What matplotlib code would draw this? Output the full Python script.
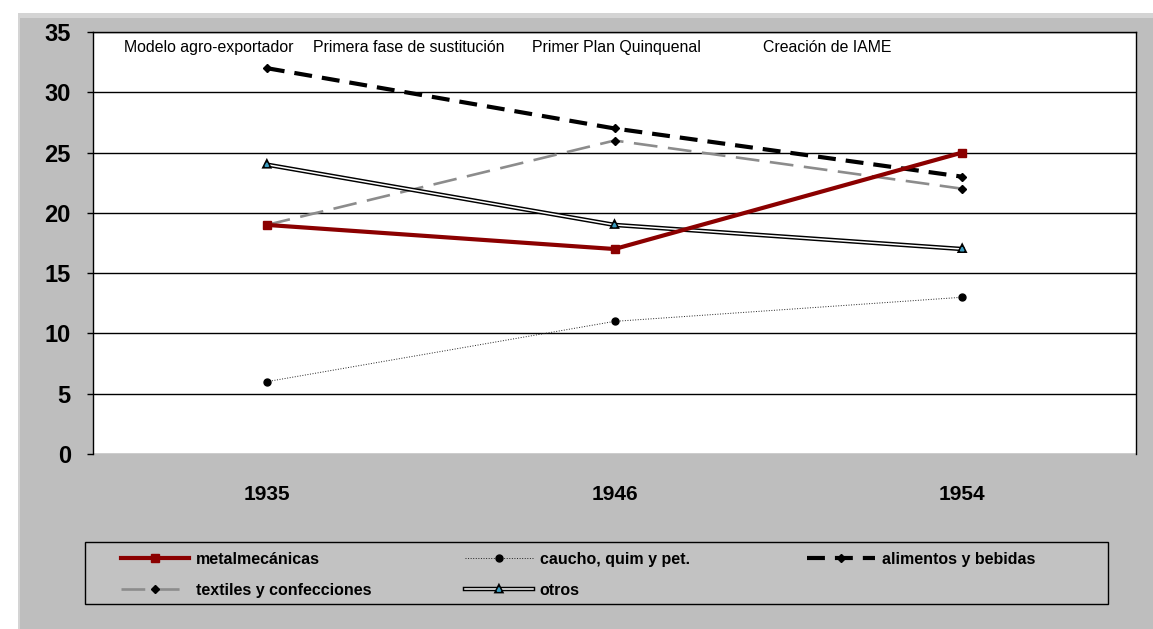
import matplotlib.pyplot as plt
import matplotlib.patheffects as pe
from matplotlib.patches import Rectangle

plt.rcParams['font.family'] = ['Liberation Sans', 'DejaVu Sans']

years = ['1935', '1946', '1954']
metal = [19, 17, 25]
caucho = [6, 11, 13]
alimentos = [32, 27, 23]
textiles = [19, 26, 22]
otros = [24, 19, 17]
etapas = ['Modelo agro-exportador', 'Primera fase de sustitución',
          'Primer Plan Quinquenal', 'Creación de IAME']
etapa_x = [-0.167, 0.408, 1.006, 1.612]

fig = plt.figure(figsize=(11.53, 6.29), dpi=100)
fig.patch.set_facecolor('white')
# grey chart area with a thin shadow strip
fig.add_artist(Rectangle((18/1153, 0), 1, 1 - 13/629, transform=fig.transFigure,
                         facecolor='#d4d4d4', edgecolor='none', zorder=-3))
fig.add_artist(Rectangle((20/1153, 0), 1, 1 - 18/629, transform=fig.transFigure,
                         facecolor='#bebebe', edgecolor='none', zorder=-2))

ax = fig.add_axes([93/1153, 1 - 454/629, 1043/1153, 422/629])
x = range(len(years))

l_metal, = ax.plot(x, metal, color='#8b0000', lw=3, marker='s', ms=6,
                   label='metalmecánicas', zorder=5)
l_caucho, = ax.plot(x, caucho, color='#222222', lw=0.7, ls=':', marker='o', ms=5,
                    mfc='black', mec='black', label='caucho, quim y pet.', zorder=4)
l_alim, = ax.plot(x, alimentos, color='black', lw=3, dashes=(4.3, 2.4), marker='D', ms=4,
                  mfc='black', mec='black', label='alimentos y bebidas', zorder=4)
l_text, = ax.plot(x, textiles, color='#8c8c8c', lw=1.9, dashes=(9, 4), marker='D', ms=4,
                  mfc='black', mec='black', label='textiles y confecciones', zorder=3)
l_otros, = ax.plot(x, otros, color='white', lw=1.1, marker='^', ms=2.5,
                   mfc='#3a9cc0', mec='#3a9cc0', label='otros', zorder=3,
                   path_effects=[pe.Stroke(linewidth=3.2, foreground='black'), pe.Normal()])

ax.set_xlim(-0.5, 2.5)
ax.set_ylim(0, 35)
ax.set_yticks(range(0, 36, 5))
ax.set_xticks(list(x))
ax.set_xticklabels(years)
ax.yaxis.grid(True, color='black', lw=1)
ax.set_axisbelow(True)
ax.tick_params(axis='y', length=4, width=1, pad=12, labelsize=17)
ax.tick_params(axis='x', length=0, pad=22, labelsize=15)
for lbl in ax.get_xticklabels() + ax.get_yticklabels():
    lbl.set_fontweight('bold')
ax.spines['bottom'].set_visible(False)
for s in ['left', 'top', 'right']:
    ax.spines[s].set_color('black')
    ax.spines[s].set_linewidth(1)

for t, xp in zip(etapas, etapa_x):
    ax.text(xp, 33.75, t, ha='center', va='center', fontsize=11.4)

# legend: frame drawn once, three columns placed at fixed x positions
fig.add_artist(Rectangle((85/1153, 1 - 604/629), (1108 - 85)/1153, (604 - 542)/629,
                         transform=fig.transFigure, facecolor='#c2c2c2',
                         edgecolor='black', lw=1, zorder=1))
columns = [[l_metal, l_text], [l_caucho, l_otros], [l_alim]]
col_x = [115, 459, 801]
for hs, cx in zip(columns, col_x):
    leg = fig.legend(hs, [h.get_label() for h in hs], loc='upper left',
                     bbox_to_anchor=(cx/1153, 1 - 546/629), frameon=False,
                     borderaxespad=0, borderpad=0.35, handlelength=4.3, handletextpad=0.4,
                     prop={'weight': 'bold', 'size': 11.5}, labelspacing=1.03)
    leg.set_zorder(2)

fig.savefig('out.png', dpi=100)
